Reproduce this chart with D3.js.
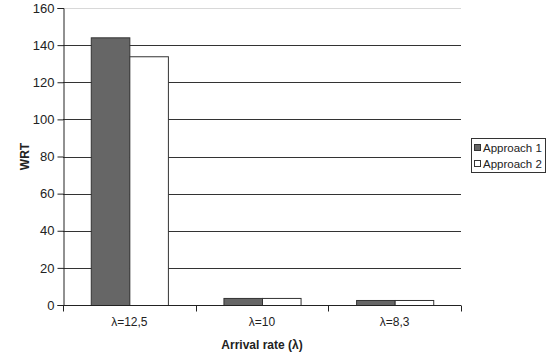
<!DOCTYPE html>
<html><head><meta charset="utf-8">
<script src="https://cdn.jsdelivr.net/npm/d3@7"></script>
<style>body{margin:0;background:#fff}svg{display:block}text{font-family:"Liberation Sans",Arial,sans-serif}</style>
</head><body><svg id="c" width="554" height="356"></svg>
<script>
const categories = ["λ=12,5", "λ=10", "λ=8,3"];
const seriesNames = ["Approach 1", "Approach 2"];
const approach1 = [144.2, 3.8, 2.7];
const approach2 = [134.0, 3.8, 2.7];
const yTicks = [0, 20, 40, 60, 80, 100, 120, 140, 160];
const colors = ["#666666", "#ffffff"];

const svg = d3.select("#c");
const L = 63, R = 461, T = 8, B = 305;
const x = d3.scaleBand().domain(categories).range([L, R]);
const y = d3.scaleLinear().domain([0, 160]).range([B, T]);
const xs = d3.scaleBand().domain(seriesNames).range([0, x.bandwidth()]).paddingInner(0).paddingOuter(0.72);

// gridlines
svg.append("g").selectAll("line").data(yTicks.filter(d => d > 0)).join("line")
  .attr("x1", L).attr("x2", R).attr("y1", d => Math.round(y(d)) + 0.5).attr("y2", d => Math.round(y(d)) + 0.5)
  .attr("stroke", d => d === 160 ? "#d8d8d8" : "#333").attr("stroke-width", 1);

// bars
const data = categories.map((c, i) => ({c, vals: [approach1[i], approach2[i]]}));
const g = svg.append("g").selectAll("g").data(data).join("g").attr("transform", d => `translate(${x(d.c)},0)`);
g.selectAll("rect").data(d => d.vals.map((v, j) => ({v, s: seriesNames[j], j}))).join("rect")
  .attr("x", d => xs(d.s) + 0.5).attr("width", xs.bandwidth())
  .attr("y", d => y(d.v) + 0.5).attr("height", d => y(0) - y(d.v))
  .attr("fill", d => colors[d.j]).attr("stroke", "#333").attr("stroke-width", 1);

// axes
const yAxis = d3.axisLeft(y).tickValues(yTicks).tickSize(6).tickPadding(3);
const ya = svg.append("g").attr("transform", `translate(${L + 0.5},0)`).call(yAxis);
ya.select(".domain").attr("stroke", "#222");
ya.selectAll(".tick line").attr("stroke", "#222");
ya.selectAll("text").attr("font-size", 13).attr("fill", "#222");

const xAxis = d3.axisBottom(x).tickSize(0).tickPadding(12);
const xa = svg.append("g").attr("transform", `translate(0,${B + 0.5})`).call(xAxis);
xa.select(".domain").attr("stroke", "#222").attr("d", `M${L},0H${R}`);
xa.selectAll("text").attr("font-size", 12).attr("fill", "#222");
// category boundary ticks
const bounds = categories.map(c => x(c)).concat([R]);
xa.append("g").selectAll("line").data(bounds).join("line")
  .attr("x1", d => Math.round(d) + 0.5).attr("x2", d => Math.round(d) + 0.5).attr("y1", 0).attr("y2", 6).attr("stroke", "#222");

// axis titles
svg.append("text").attr("x", (L + R) / 2).attr("y", 349).attr("text-anchor", "middle")
  .attr("font-size", 12).attr("font-weight", "bold").attr("fill", "#222").text("Arrival rate (λ)");
svg.append("text").attr("transform", `translate(29,${(T + B) / 2}) rotate(-90)`).attr("text-anchor", "middle")
  .attr("font-size", 12).attr("font-weight", "bold").attr("fill", "#222").text("WRT");

// legend
const lg = svg.append("g").attr("transform", "translate(471,138)");
lg.append("rect").attr("x", 0.5).attr("y", 0.5).attr("width", 74).attr("height", 34).attr("fill", "#fff").attr("stroke", "#333");
seriesNames.forEach((s, i) => {
  lg.append("rect").attr("x", 3.5).attr("y", 6.5 + i * 16).attr("width", 6).attr("height", 6)
    .attr("fill", colors[i]).attr("stroke", "#333");
  lg.append("text").attr("x", 12).attr("y", 13.5 + i * 16).attr("font-size", 11.5).attr("fill", "#222").text(s);
});
</script></body></html>
